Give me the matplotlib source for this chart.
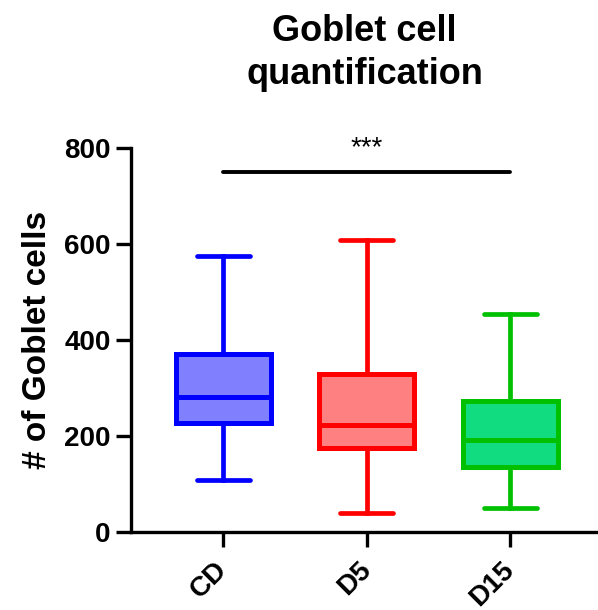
import matplotlib
matplotlib.use("Agg")
import matplotlib.pyplot as plt

plt.rcParams['font.family'] = ['Liberation Sans', 'DejaVu Sans']
plt.rcParams['font.weight'] = 'bold'

groups = ["CD", "D5", "D15"]
mins = [108, 40, 50]
q1s = [228, 175, 136]
medians = [282, 223, 192]
q3s = [371, 329, 273]
maxs = [574, 608, 454]
edge_colors = ["#0000FF", "#FF0000", "#00C000"]
fill_colors = ["#8080FF", "#FF8080", "#12DC80"]

sig_text = "***"
sig_level = 750

stats = []
for i in range(len(groups)):
    stats.append(dict(label=groups[i], whislo=mins[i], q1=q1s[i], med=medians[i],
                      q3=q3s[i], whishi=maxs[i], fliers=[]))

fig = plt.figure(figsize=(5.98, 6.10), dpi=100)
ax = fig.add_axes([131/598, 1-532/610, 1-131/598, (532-148)/610])

positions = list(range(len(groups)))
bp = ax.bxp(stats, positions=positions, widths=0.66, patch_artist=True,
            showfliers=False, capwidths=0.37)
for i in range(len(groups)):
    c = edge_colors[i]
    bp['boxes'][i].set(facecolor=fill_colors[i], edgecolor=c, linewidth=3.6)
    bp['medians'][i].set(color=c, linewidth=3.6)
    for w in bp['whiskers'][2*i:2*i+2]:
        w.set(color=c, linewidth=3.4)
    for cp in bp['caps'][2*i:2*i+2]:
        cp.set(color=c, linewidth=3.4, solid_capstyle='round')

ax.plot([positions[0], positions[-1]], [sig_level, sig_level], color='black',
        linewidth=2.8, solid_capstyle='round', clip_on=False)
ax.text(positions[1], sig_level + 22, sig_text, ha='center', va='bottom',
        fontsize=20, fontweight='normal')

ax.set_xlim(-0.643, 2.61)
ax.set_ylim(0, 800)
ax.set_yticks([0, 200, 400, 600, 800])
ax.set_xticks(positions)
ax.set_xticklabels(groups, rotation=45, ha='right', va='center',
                   rotation_mode='anchor', fontsize=21)

for s in ['top', 'right']:
    ax.spines[s].set_visible(False)
for s in ['left', 'bottom']:
    ax.spines[s].set_linewidth(2.4)
ax.tick_params(axis='both', width=2.4, length=10.5, labelsize=20)
ax.tick_params(axis='x', pad=14)
ax.tick_params(axis='y', pad=4)

ax.set_ylabel("# of Goblet cells", fontsize=24, fontweight='bold', labelpad=8)
ax.set_title("Goblet cell\nquantification", fontsize=26, fontweight='bold',
             pad=46, linespacing=1.3)

fig.savefig("out.png", dpi=100)
